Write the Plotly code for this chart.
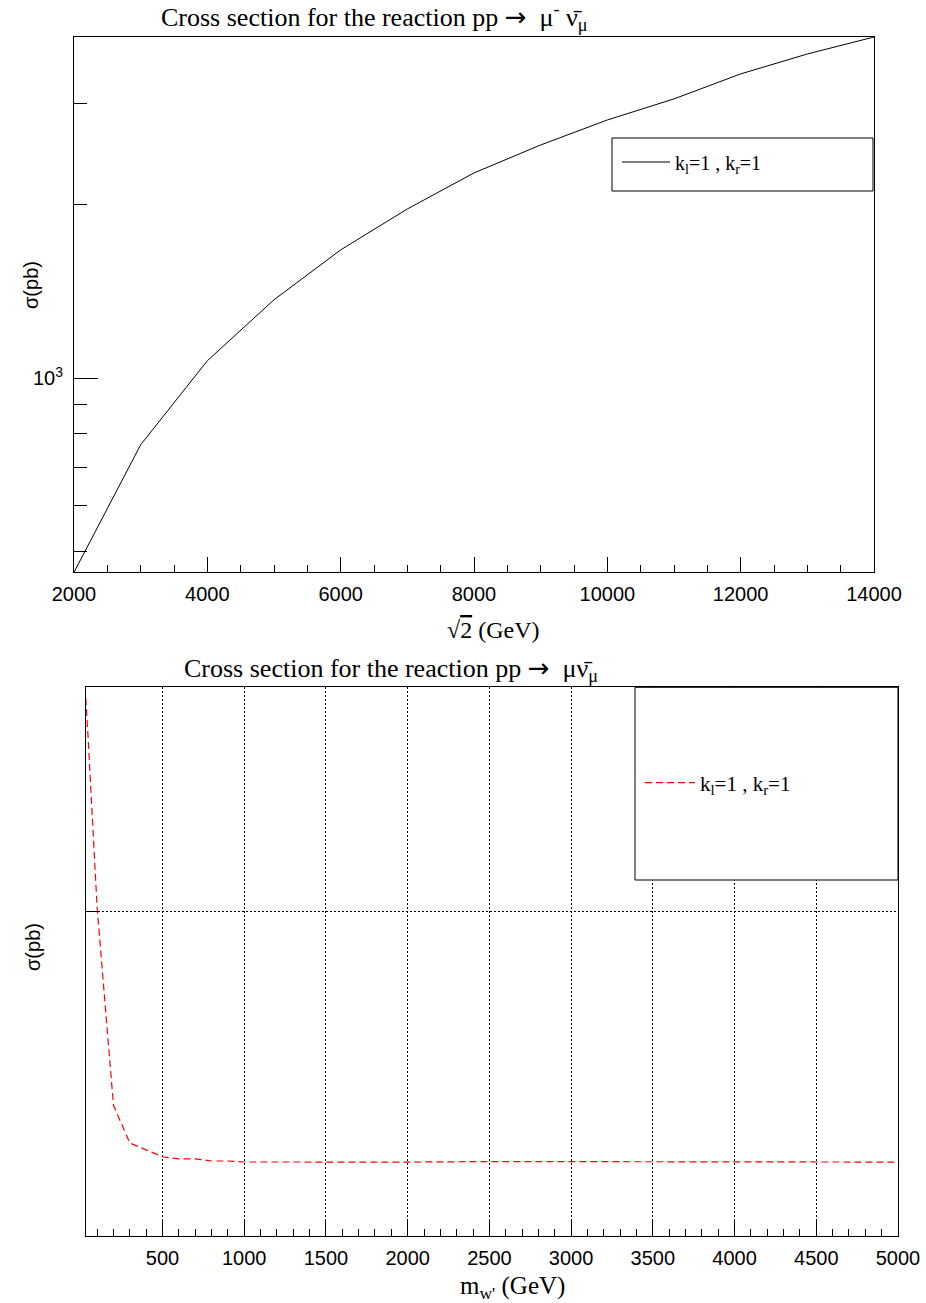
import plotly.graph_objects as go
import math

# ---- data: top panel (sigma vs sqrt(s)) ----
sqrt_s = [2000, 3000, 4000, 5000, 6000, 7000, 8000, 9000, 10000, 11000, 12000, 13000, 14000]
sigma_top = [460, 766, 1072, 1368, 1670, 1967, 2272, 2541, 2808, 3055, 3376, 3656, 3913]

# ---- data: bottom panel (sigma vs m_W') ----
m_w = [30, 45, 100, 200, 300, 400, 500, 600, 700, 800, 900, 1000,
       1500, 2000, 2500, 3000, 3500, 4000, 4500, 5000]
sigma_bot = [711, 492, 102.8, 16.7, 11.8, 11.07, 10.4, 10.2, 10.2, 10.0, 10.0, 9.91,
             9.9, 9.9, 9.95, 9.95, 9.95, 9.95, 9.93, 9.9]

legend_label = "k<sub>l</sub>=1 , k<sub>r</sub>=1"
top_x_ticks = [2000, 4000, 6000, 8000, 10000, 12000, 14000]
top_x_text = [str(v) for v in top_x_ticks]
bot_x_ticks = [500, 1000, 1500, 2000, 2500, 3000, 3500, 4000, 4500, 5000]
bot_x_text = [str(v) for v in bot_x_ticks]

W, H = 926, 1303
def px(x): return x / W
def py(y): return 1 - y / H

SANS = "Liberation Sans, Arial, sans-serif"
SERIF = "Liberation Serif, Times New Roman, serif"

fig = go.Figure()
fig.add_trace(go.Scatter(x=sqrt_s, y=sigma_top, mode="lines", name=legend_label,
                         line=dict(color="black", width=1), xaxis="x", yaxis="y",
                         legend="legend"))
fig.add_trace(go.Scatter(x=m_w, y=sigma_bot, mode="lines", name=legend_label,
                         line=dict(color="#ff0000", width=1.2, dash="7px,4px"),
                         xaxis="x2", yaxis="y2", legend="legend2"))

axis_common = dict(showline=True, mirror=True, linecolor="black", linewidth=1,
                   ticks="inside", tickcolor="black", zeroline=False, automargin=False,
                   tickfont=dict(family=SANS, size=20, color="black"))

fig.update_layout(
    template="none",
    width=W, height=H, margin=dict(l=0, r=0, t=0, b=0, autoexpand=False),
    paper_bgcolor="white", plot_bgcolor="white",
    xaxis=dict(domain=[px(74), px(874)], range=[2000, 14000], anchor="y",
               tickvals=top_x_ticks, ticktext=top_x_text, ticklen=15, showgrid=False,
               minor=dict(dtick=500, tick0=2000, ticklen=7, ticks="inside", tickcolor="black", showgrid=False),
               ticklabelstandoff=4, **axis_common),
    yaxis=dict(domain=[py(572.3), py(37)], type="log",
               range=[math.log10(460), math.log10(3913)], anchor="x",
               tickvals=[1000], ticktext=["10<sup>3</sup>"], ticklen=24, showgrid=False,
               minor=dict(dtick="D1", ticklen=13, ticks="inside", tickcolor="black", showgrid=False),
               ticklabelstandoff=6, **axis_common),
    xaxis2=dict(domain=[px(85.7), px(898)], range=[30, 5000], anchor="y2",
                tickvals=bot_x_ticks, ticktext=bot_x_text, ticklen=15,
                showgrid=True, gridcolor="black", gridwidth=1, griddash="2px,2px",
                minor=dict(dtick=100, tick0=0, ticklen=7, ticks="inside", tickcolor="black", showgrid=False),
                ticklabelstandoff=4, **axis_common),
    yaxis2=dict(domain=[py(1235.7), py(687.3)], type="log",
                range=[2 - 324.7 / 250, 2 + 223.7 / 250], anchor="x2",
                tickvals=[100], ticklen=13, showticklabels=False,
                showgrid=True, gridcolor="black", gridwidth=1, griddash="2px,2px",
                **axis_common),
    legend=dict(x=px(617), y=py(162), xanchor="left", yanchor="middle",
                bgcolor="rgba(0,0,0,0)", borderwidth=0, itemwidth=48,
                font=dict(family=SERIF, size=20, color="black")),
    legend2=dict(x=px(640), y=py(783), xanchor="left", yanchor="middle",
                 bgcolor="rgba(0,0,0,0)", borderwidth=0, itemwidth=50,
                 font=dict(family=SERIF, size=21, color="black")),
    showlegend=True,
)

# legend boxes
fig.add_shape(type="rect", xref="paper", yref="paper",
              x0=px(612), x1=px(873), y0=py(191), y1=py(138),
              line=dict(color="black", width=1), fillcolor="white", layer="above")
fig.add_shape(type="rect", xref="paper", yref="paper",
              x0=px(635), x1=px(898), y0=py(880), y1=py(687.3),
              line=dict(color="black", width=1), fillcolor="white", layer="above")

def ann(text, x, y, size, family, angle=0):
    fig.add_annotation(text=text, x=px(x), y=py(y), xref="paper", yref="paper",
                       showarrow=False, xanchor="center", yanchor="middle",
                       textangle=angle, font=dict(family=family, size=size, color="black"))

SP = "\u00a0"
ARROW = SP + "<span style='font-family:DejaVu Sans'>\u2192</span>" + SP * 2
ann("Cross section for the reaction pp" + ARROW + "\u03bc<sup>-</sup> \u03bd\u0304<sub>\u03bc</sub>", 374, 17, 26, SERIF)
ann("Cross section for the reaction pp" + ARROW + "\u03bc\u03bd\u0304<sub>\u03bc</sub>", 391, 669, 26, SERIF)
ann("\u221a<span style='text-decoration:overline'>2</span> (GeV)", 493, 630, 24, SERIF)
ann("m<sub>w'</sub> (GeV)", 512, 1287, 25, SERIF)
ann("\u03c3(pb)", 31, 285, 20, SANS, -90)
ann("\u03c3(pb)", 33, 947, 20, SANS, -90)

fig.write_html("out.html")
